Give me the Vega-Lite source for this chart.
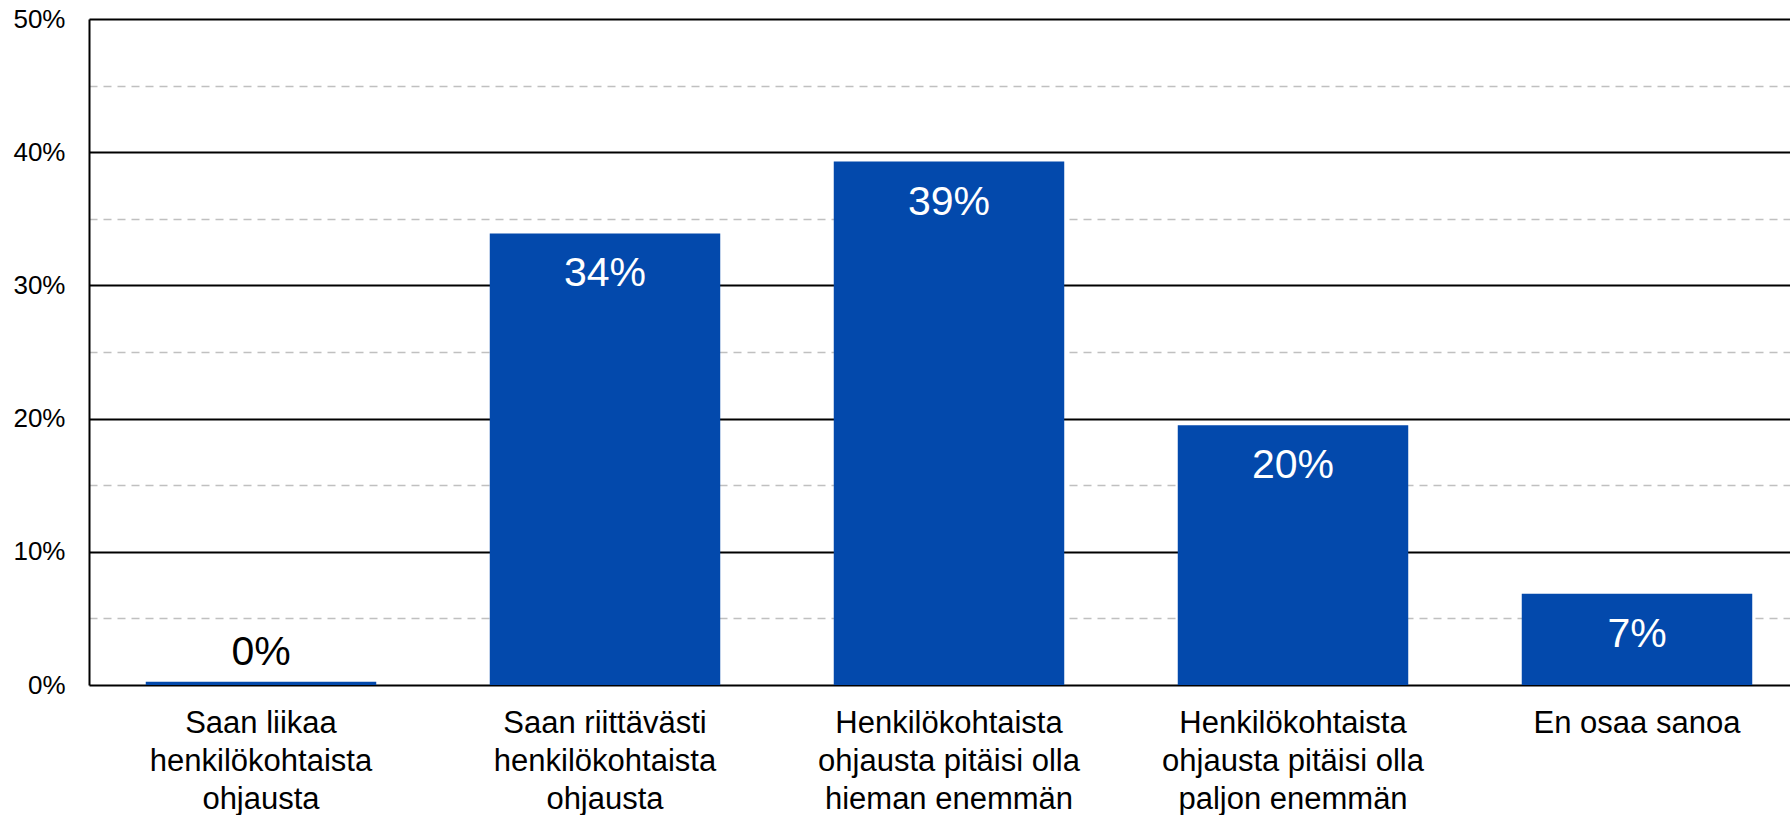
{
  "$schema": "https://vega.github.io/schema/vega-lite/v6.json",
  "width": 1701,
  "height": 666,
  "autosize": {"type": "none"},
  "padding": {"left": 89, "top": 19, "right": 0, "bottom": 130},
  "background": "white",
  "config": {
    "view": {"stroke": null},
    "font": "Liberation Sans"
  },
  "data": {
    "values": [
      {"category": "Saan liikaa\nhenkilökohtaista\nohjausta", "value": 0.0025},
      {"category": "Saan riittävästi\nhenkilökohtaista\nohjausta", "value": 0.339},
      {"category": "Henkilökohtaista\nohjausta pitäisi olla\nhieman enemmän", "value": 0.393},
      {"category": "Henkilökohtaista\nohjausta pitäisi olla\npaljon enemmän", "value": 0.195},
      {"category": "En osaa sanoa", "value": 0.0685}
    ]
  },
  "encoding": {
    "x": {
      "field": "category",
      "type": "nominal",
      "sort": null,
      "scale": {"range": [0, 1720], "paddingInner": 0.33, "paddingOuter": 0.165},
      "axis": {
        "title": null,
        "domain": false,
        "ticks": false,
        "labelAngle": 0,
        "labelFont": "Liberation Sans",
        "labelFontSize": 31,
        "labelColor": "black",
        "labelLineHeight": 38,
        "labelBaseline": "top",
        "labelPadding": 23,
        "labelLimit": 0,
        "labelExpr": "split(datum.label, '\\n')"
      }
    },
    "y": {
      "field": "value",
      "type": "quantitative",
      "scale": {"domain": [0, 0.5], "nice": false},
      "axis": {
        "title": null,
        "values": [0, 0.05, 0.1, 0.15, 0.2, 0.25, 0.3, 0.35, 0.4, 0.45, 0.5],
        "labelExpr": "round(datum.value*100) % 10 == 0 ? format(datum.value, '.0%') : ''",
        "labelFont": "Liberation Sans",
        "labelFontSize": 26,
        "labelColor": "black",
        "labelPadding": 24,
        "ticks": false,
        "domain": true,
        "domainColor": "black",
        "domainWidth": 2,
        "grid": true,
        "gridColor": {"condition": {"test": "round(datum.value*100) % 10 == 0", "value": "black"}, "value": "#C0C0C0"},
        "gridDash": {"condition": {"test": "round(datum.value*100) % 10 == 0", "value": []}, "value": [8, 6]},
        "gridWidth": {"condition": {"test": "round(datum.value*100) % 10 == 0", "value": 2}, "value": 1.5},
        "gridOpacity": 1
      }
    }
  },
  "layer": [
    {
      "mark": {"type": "bar", "color": "#0349AC"}
    },
    {
      "transform": [{"filter": "datum.value >= 0.01"}],
      "mark": {"type": "text", "color": "white", "fontSize": 41, "baseline": "alphabetic", "dy": 53, "font": "Liberation Sans"},
      "encoding": {"text": {"field": "value", "type": "quantitative", "format": ".0%"}}
    },
    {
      "transform": [{"filter": "datum.value < 0.01"}],
      "mark": {"type": "text", "color": "black", "fontSize": 41, "baseline": "alphabetic", "dy": -17, "font": "Liberation Sans"},
      "encoding": {"text": {"field": "value", "type": "quantitative", "format": ".0%"}}
    }
  ]
}
